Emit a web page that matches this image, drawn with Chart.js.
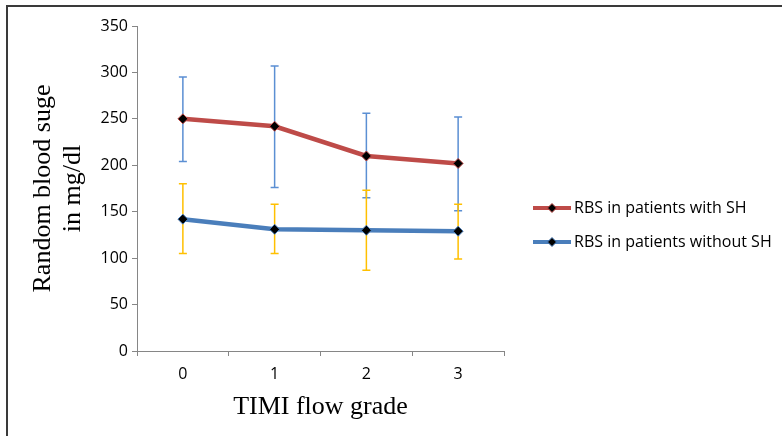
<!DOCTYPE html>
<html>
<head>
<meta charset="utf-8">
<script src="https://cdn.jsdelivr.net/npm/chart.js@4.4.1/dist/chart.umd.min.js"></script>
<style>
    html, body { margin: 0; padding: 0; background: #ffffff; }
    #wrap { position: relative; width: 782px; height: 436px; }
    #frame {
        position: absolute; left: 6px; top: 5px; right: 0; bottom: -10px;
        border-top: 2px solid #3a3a3a; border-left: 2px solid #3a3a3a;
    }
    canvas { position: absolute; left: 0; top: 0; }
</style>
</head>
<body>
<div id="wrap">
    <div id="frame"></div>
    <canvas id="rbsChart" width="782" height="436"></canvas>
</div>
<script>
const categories = ['0', '1', '2', '3'];

const withSH = [250, 242, 210, 202];
const withSHHigh = [295, 307, 256, 252];
const withSHLow = [204, 176, 165, 151];

const withoutSH = [142, 131, 130, 129];
const withoutSHHigh = [180, 158, 173, 158];
const withoutSHLow = [105, 105, 87, 99];

const yTicks = [0, 50, 100, 150, 200, 250, 300, 350];

const tickFont = { family: 'Open Sans', size: 16 };
const titleFont = { family: 'Liberation Serif', size: 26, lineHeight: 1.15 };

// error bars: drawn under the lines, one colour per series
const errorBars = {
    id: 'errorBars',
    beforeDatasetsDraw: function (chart) {
        const ctx = chart.ctx;
        const yScale = chart.scales.y;
        chart.data.datasets.forEach(function (ds, i) {
            const meta = chart.getDatasetMeta(i);
            ctx.save();
            ctx.strokeStyle = ds.errorColor;
            ctx.lineWidth = 1.5;
            meta.data.forEach(function (pt, j) {
                const yTop = yScale.getPixelForValue(ds.errHigh[j]);
                const yBot = yScale.getPixelForValue(ds.errLow[j]);
                ctx.beginPath();
                ctx.moveTo(pt.x, yTop);
                ctx.lineTo(pt.x, yBot);
                ctx.moveTo(pt.x - 4, yTop);
                ctx.lineTo(pt.x + 4, yTop);
                ctx.moveTo(pt.x - 4, yBot);
                ctx.lineTo(pt.x + 4, yBot);
                ctx.stroke();
            });
            ctx.restore();
        });
    }
};

// legend on the right: line sample with a diamond, then the label
const sideLegend = {
    id: 'sideLegend',
    afterDraw: function (chart) {
        const ctx = chart.ctx;
        const x0 = 533;
        const rows = [208, 242];
        chart.data.datasets.forEach(function (ds, i) {
            const y = rows[i];
            ctx.save();
            ctx.strokeStyle = ds.borderColor;
            ctx.lineWidth = 4;
            ctx.beginPath();
            ctx.moveTo(x0, y);
            ctx.lineTo(x0 + 38, y);
            ctx.stroke();

            ctx.fillStyle = '#000000';
            ctx.strokeStyle = ds.borderColor;
            ctx.lineWidth = 1;
            ctx.beginPath();
            ctx.moveTo(x0 + 19, y - 4.5);
            ctx.lineTo(x0 + 23.5, y);
            ctx.lineTo(x0 + 19, y + 4.5);
            ctx.lineTo(x0 + 14.5, y);
            ctx.closePath();
            ctx.fill();
            ctx.stroke();

            ctx.fillStyle = '#000000';
            ctx.font = '16px "Open Sans"';
            ctx.textBaseline = 'middle';
            ctx.textAlign = 'left';
            ctx.fillText(ds.label, x0 + 41, y);
            ctx.restore();
        });
    }
};

new Chart(document.getElementById('rbsChart'), {
    type: 'line',
    data: {
        labels: categories,
        datasets: [{
            label: 'RBS in patients with SH',
            data: withSH,
            errHigh: withSHHigh,
            errLow: withSHLow,
            errorColor: '#5b8fd3',
            borderColor: '#be4b48',
            borderWidth: 4.5,
            pointStyle: 'rectRot',
            pointRadius: 5,
            pointBackgroundColor: '#000000',
            pointBorderColor: '#be4b48',
            pointBorderWidth: 1,
            tension: 0
        }, {
            label: 'RBS in patients without SH',
            data: withoutSH,
            errHigh: withoutSHHigh,
            errLow: withoutSHLow,
            errorColor: '#ffc000',
            borderColor: '#4a7ebb',
            borderWidth: 4.5,
            pointStyle: 'rectRot',
            pointRadius: 5,
            pointBackgroundColor: '#000000',
            pointBorderColor: '#4a7ebb',
            pointBorderWidth: 1,
            tension: 0
        }]
    },
    options: {
        responsive: false,
        animation: false,
        devicePixelRatio: 1,
        layout: {
            padding: { top: 26, right: 278, left: 0, bottom: 0 }
        },
        plugins: {
            legend: { display: false },
            tooltip: { enabled: false }
        },
        scales: {
            x: {
                offset: true,
                grid: {
                    offset: true,
                    drawOnChartArea: false,
                    color: '#868686',
                    tickLength: 5
                },
                border: { color: '#868686', width: 1 },
                ticks: {
                    color: '#000000',
                    font: tickFont,
                    padding: 9,
                    maxRotation: 0
                },
                title: {
                    display: true,
                    text: 'TIMI flow grade',
                    color: '#000000',
                    font: titleFont,
                    padding: { top: 0, bottom: 14 }
                },
                afterFit: function (scale) {
                    scale.height = 85;
                }
            },
            y: {
                min: 0,
                max: 350,
                afterBuildTicks: function (scale) {
                    scale.ticks = yTicks.map(function (v) {
                        return { value: v };
                    });
                },
                grid: {
                    drawOnChartArea: false,
                    color: '#868686',
                    tickLength: 5
                },
                border: { color: '#868686', width: 1 },
                ticks: {
                    color: '#000000',
                    font: tickFont,
                    padding: 4
                },
                title: {
                    display: true,
                    text: ['Random blood suge', 'in mg/dl'],
                    color: '#000000',
                    font: titleFont,
                    padding: { top: 28, bottom: 0 }
                },
                afterFit: function (scale) {
                    scale.width = 137;
                }
            }
        }
    },
    plugins: [errorBars, sideLegend]
});
</script>
</body>
</html>
